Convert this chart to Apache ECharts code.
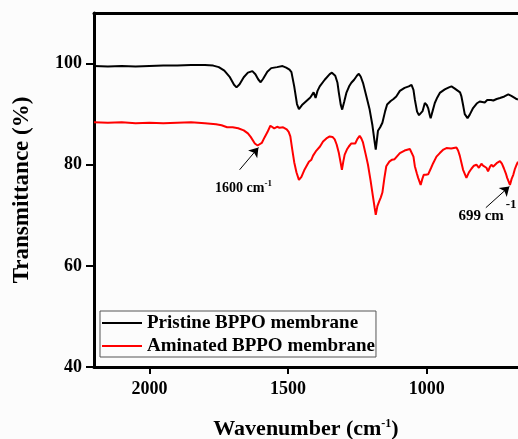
<!DOCTYPE html>
<html>
<head>
<meta charset="utf-8">
<script src="https://cdn.jsdelivr.net/npm/echarts@6/dist/echarts.min.js"></script>
<style>
  html, body { margin: 0; padding: 0; background: #fcfcfc; }
  #chart { width: 518px; height: 439px; }
</style>
</head>
<body>
<div id="chart"></div>
<script>
// FTIR spectra of pristine and aminated BPPO membranes
const seriesNames = ['Pristine BPPO membrane', 'Aminated BPPO membrane'];

const pristineWave = [2200, 2150, 2100, 2050, 2000, 1950, 1900, 1850, 1800, 1770, 1750, 1730, 1710, 1695, 1686, 1675, 1660, 1645, 1629, 1618, 1608, 1599, 1590, 1575, 1561, 1540, 1520, 1507, 1495, 1488, 1478, 1468, 1461, 1450, 1440, 1434, 1420, 1408, 1401, 1394, 1386, 1368, 1350, 1342, 1330, 1322, 1317, 1310, 1305, 1298, 1290, 1280, 1272, 1262, 1252, 1245, 1238, 1230, 1218, 1206, 1196, 1188, 1184, 1180, 1176, 1168, 1160, 1150, 1143, 1130, 1120, 1110, 1097, 1080, 1065, 1055, 1048, 1043, 1035, 1028, 1022, 1015, 1007, 1000, 995, 990, 986, 980, 971, 962, 953, 935, 920, 911, 900, 893, 880, 875, 868, 863, 853, 845, 833, 820, 809, 800, 791, 782, 775, 768, 760, 748, 736, 720, 706, 695, 688, 680, 671];
const pristineTrans = [99.5, 99.4, 99.5, 99.4, 99.5, 99.6, 99.6, 99.7, 99.7, 99.6, 99.3, 98.6, 97.3, 95.8, 95.3, 95.9, 97.3, 98.2, 98.5, 97.9, 96.9, 96.3, 97.0, 98.4, 99.1, 99.3, 99.5, 99.2, 98.8, 98.3, 95.5, 92.0, 91.0, 91.8, 92.3, 92.5, 93.3, 94.3, 93.2, 94.6, 95.5, 96.8, 97.9, 98.2, 97.6, 96.2, 94.2, 91.8, 90.9, 92.4, 94.2, 95.5, 96.2, 96.8, 97.6, 98.0, 97.4, 96.2, 93.6, 90.9, 87.8, 84.5, 83.0, 84.8, 86.7, 87.4, 88.3, 90.6, 91.9, 92.6, 93.0, 93.5, 94.6, 95.2, 95.5, 95.8, 94.8, 92.9, 90.5, 89.8, 89.7, 90.6, 92.2, 91.8, 91.2, 90.0, 89.2, 90.4, 92.2, 93.3, 94.2, 94.9, 95.3, 95.5, 95.1, 95.0, 94.3, 93.5, 91.5, 90.0, 89.2, 89.9, 91.2, 92.1, 92.5, 92.4, 92.3, 92.8, 93.0, 92.8, 92.7, 93.0, 93.2, 93.5, 93.9, 93.6, 93.3, 93.1, 92.9];

const aminatedWave = [2200, 2150, 2100, 2050, 2000, 1950, 1900, 1850, 1800, 1760, 1740, 1720, 1700, 1680, 1660, 1645, 1635, 1620, 1610, 1603, 1595, 1585, 1575, 1564, 1550, 1540, 1531, 1518, 1505, 1498, 1492, 1485, 1478, 1470, 1461, 1452, 1442, 1434, 1425, 1416, 1410, 1404, 1398, 1392, 1385, 1374, 1362, 1350, 1340, 1332, 1325, 1317, 1311, 1306, 1301, 1296, 1288, 1281, 1272, 1266, 1258, 1250, 1242, 1236, 1230, 1220, 1212, 1203, 1194, 1188, 1184, 1178, 1172, 1166, 1160, 1153, 1146, 1135, 1125, 1116, 1105, 1097, 1080, 1061, 1055, 1048, 1043, 1036, 1031, 1022, 1016, 1011, 1003, 995, 985, 977, 965, 953, 940, 929, 912, 893, 887, 881, 875, 869, 857, 848, 839, 830, 825, 821, 812, 803, 797, 791, 785, 779, 772, 766, 761, 748, 736, 729, 722, 715, 710, 700, 694, 688, 682, 676, 671];
const aminatedTrans = [88.4, 88.3, 88.4, 88.2, 88.3, 88.2, 88.3, 88.4, 88.2, 88.0, 87.8, 87.4, 87.4, 87.2, 86.8, 86.2, 85.5, 84.2, 83.8, 83.6, 84.3, 85.4, 86.4, 87.7, 87.2, 87.5, 87.3, 87.4, 87.0, 86.5, 85.6, 83.0, 80.5, 78.5, 77.0, 77.6, 78.9, 79.7, 80.6, 81.0, 81.8, 82.0, 82.8, 83.1, 83.6, 84.6, 85.2, 85.6, 85.5, 85.0, 84.0, 82.3, 80.5, 79.0, 80.6, 82.0, 83.0, 83.6, 84.2, 84.5, 84.2, 85.1, 85.7, 85.2, 84.4, 82.0, 80.0, 77.0, 73.7, 71.5, 70.1, 71.8, 72.7, 73.5, 74.5, 77.3, 79.7, 80.6, 81.0, 81.1, 81.8, 82.3, 82.8, 83.1, 82.8, 81.6, 79.7, 78.3, 77.4, 76.0, 77.2, 78.0, 78.0, 78.1, 79.3, 80.3, 81.6, 82.3, 83.0, 83.3, 83.2, 83.4, 82.8, 81.8, 80.4, 79.0, 77.4, 78.5, 79.2, 79.8, 79.6, 80.0, 79.4, 80.2, 79.8, 80.1, 79.4, 78.7, 79.6, 80.0, 79.6, 80.3, 80.7, 80.2, 79.3, 78.3, 77.4, 76.0, 77.2, 78.0, 79.2, 80.0, 80.6];

const xTickValues = [2000, 1500, 1000];
const yTickValues = [40, 60, 80, 100];
const peakLabels = ['1600', '699'];

const pairs = (xs, ys) => xs.map((x, i) => [x, ys[i]]);

const serif = '"Liberation Serif", "DejaVu Serif", serif';
const axisLineStyle = { color: '#000', width: 3 };

const chart = echarts.init(document.getElementById('chart'), null, { renderer: 'canvas' });

chart.setOption({
  backgroundColor: '#fcfcfc',
  animation: false,
  grid: { left: 94, right: 0, top: 13, bottom: 72, outerBoundsMode: 'none', containLabel: false },
  legend: {
    orient: 'vertical',
    left: 100,
    top: 311,
    icon: 'rect',
    itemWidth: 40,
    itemHeight: 2,
    itemGap: 3,
    padding: [2, 1, 1, 2],
    borderColor: '#555',
    borderWidth: 1,
    textStyle: { fontFamily: serif, fontWeight: 'bold', fontSize: 19, color: '#000', lineHeight: 20 },
    data: seriesNames
  },
  xAxis: [{
    type: 'value',
    inverse: true,
    min: 671,
    max: 2200,
    position: 'bottom',
    name: 'Wavenumber (cm{sup|-1})',
    nameLocation: 'middle',
    nameGap: 51,
    nameTextStyle: {
      fontFamily: serif, fontWeight: 'bold', fontSize: 22, color: '#000',
      rich: {
        sup: { fontFamily: serif, fontWeight: 'bold', fontSize: 12, color: '#000', verticalAlign: 'top', padding: [0, 0, 10, 0] }
      }
    },
    axisLine: { lineStyle: axisLineStyle },
    axisTick: { show: true, inside: false, length: 7, lineStyle: { color: '#000', width: 2 }, customValues: xTickValues },
    axisLabel: {
      margin: 13, fontFamily: serif, fontWeight: 'bold', fontSize: 18, color: '#000',
      customValues: xTickValues,
      formatter: (v) => String(v)
    },
    splitLine: { show: false }
  }, {
    type: 'value',
    inverse: true,
    min: 671,
    max: 2200,
    position: 'top',
    axisLine: { show: true, lineStyle: axisLineStyle },
    axisTick: { show: false },
    axisLabel: { show: false },
    splitLine: { show: false }
  }],
  yAxis: {
    type: 'value',
    min: 40,
    max: 110,
    name: 'Transmittance (%)',
    nameLocation: 'middle',
    nameGap: 60,
    nameTextStyle: { fontFamily: serif, fontWeight: 'bold', fontSize: 23, color: '#000' },
    axisLine: { show: true, lineStyle: axisLineStyle },
    axisTick: { show: true, inside: false, length: 8, lineStyle: { color: '#000', width: 2 }, customValues: yTickValues },
    axisLabel: {
      margin: 12, fontFamily: serif, fontWeight: 'bold', fontSize: 18, color: '#000',
      customValues: yTickValues,
      formatter: (v) => String(v)
    },
    splitLine: { show: false }
  },
  series: [{
    name: seriesNames[0],
    type: 'line',
    showSymbol: false,
    symbol: 'none',
    color: '#000',
    lineStyle: { color: '#000', width: 2 },
    data: pairs(pristineWave, pristineTrans)
  }, {
    name: seriesNames[1],
    type: 'line',
    showSymbol: false,
    symbol: 'none',
    color: '#ff0000',
    lineStyle: { color: '#ff0000', width: 2 },
    data: pairs(aminatedWave, aminatedTrans),
    markLine: {
      silent: true,
      symbol: ['none', 'arrow'],
      symbolSize: 9,
      label: { show: false },
      lineStyle: { color: '#000', width: 1, type: 'solid' },
      data: [
        [{ coord: [1675, 79.0] }, { coord: [1607, 83.4] }],
        [{ coord: [787, 71.5] }, { coord: [702, 75.7] }]
      ]
    },
    markPoint: {
      silent: true,
      symbol: 'circle',
      symbolSize: 0,
      label: {
        show: true,
        position: 'inside',
        color: '#000',
        fontFamily: serif,
        fontWeight: 'bold',
        fontSize: 14
      },
      data: [{
        coord: [1661, 75.4],
        label: {
          formatter: peakLabels[0] + ' cm{s|-1}',
          rich: { s: { fontFamily: serif, fontWeight: 'bold', fontSize: 9, color: '#000', padding: [0, 0, 8, 0] } }
        }
      }, {
        coord: [781, 69.8],
        label: {
          fontSize: 15,
          formatter: peakLabels[1] + ' cm{s|-1}',
          rich: { s: { fontFamily: serif, fontWeight: 'bold', fontSize: 13, color: '#000', padding: [0, 0, 24, 2] } }
        }
      }]
    }
  }]
});
</script>
</body>
</html>
